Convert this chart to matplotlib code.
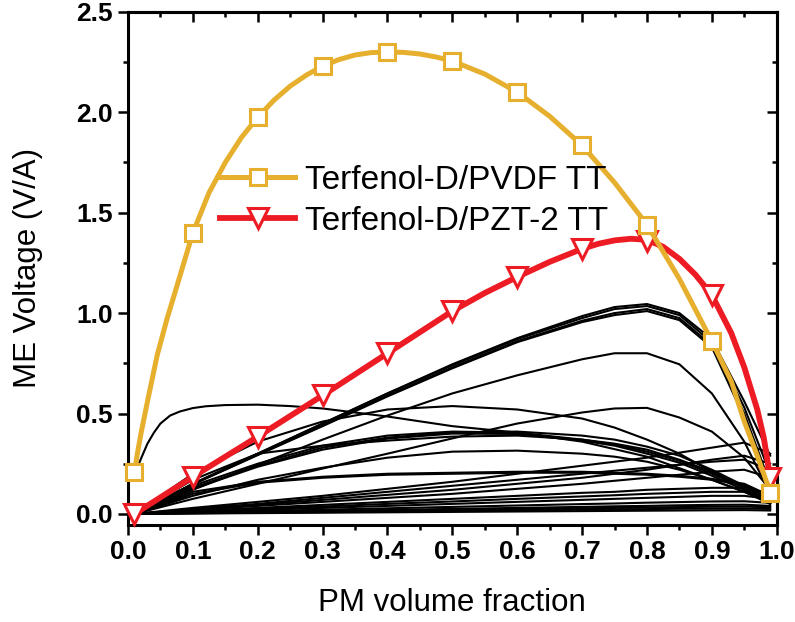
import matplotlib
matplotlib.use('Agg')
import matplotlib.pyplot as plt
from matplotlib.lines import Line2D
from matplotlib.ticker import MultipleLocator

plt.rcParams['font.family'] = ['Liberation Sans', 'DejaVu Sans']

# PM volume fraction where the markers sit
pm_marks = [0.01, 0.1, 0.2, 0.3, 0.4, 0.5, 0.6, 0.7, 0.8, 0.9, 0.99]
pvdf_marks = [0.21, 1.40, 1.975, 2.23, 2.30, 2.255, 2.10, 1.835, 1.44, 0.86, 0.105]
pzt_marks = [0.0, 0.185, 0.385, 0.59, 0.80, 1.01, 1.18, 1.32, 1.36, 1.09, 0.18]

# smooth lines through the markers
pvdf_x = [0.01, 0.015, 0.02, 0.03, 0.045, 0.06, 0.075, 0.1, 0.125, 0.15, 0.175, 0.2, 0.225,
          0.25, 0.275, 0.3, 0.325, 0.35, 0.375, 0.4, 0.425, 0.45, 0.475, 0.5, 0.55, 0.6,
          0.65, 0.7, 0.75, 0.8, 0.85, 0.9, 0.93, 0.95, 0.97, 0.98, 0.99]
pvdf_line = [0.21, 0.31, 0.40, 0.56, 0.79, 0.97, 1.13, 1.40, 1.60, 1.75, 1.875, 1.975, 2.06,
             2.13, 2.185, 2.23, 2.262, 2.285, 2.297, 2.30, 2.298, 2.29, 2.275, 2.255, 2.19, 2.10,
             1.98, 1.835, 1.65, 1.44, 1.17, 0.86, 0.66, 0.46, 0.29, 0.20, 0.105]
pzt_x = [0.01, 0.1, 0.2, 0.3, 0.4, 0.5, 0.55, 0.6, 0.65, 0.7, 0.725, 0.75, 0.775, 0.8, 0.825,
         0.85, 0.875, 0.9, 0.93, 0.95, 0.97, 0.98, 0.99]
pzt_line = [0.0, 0.185, 0.385, 0.59, 0.80, 1.01, 1.10, 1.18, 1.255, 1.32, 1.345, 1.362, 1.37,
            1.365, 1.33, 1.27, 1.19, 1.09, 0.90, 0.73, 0.52, 0.38, 0.18]

# black background curves
grid_x = [0.01, 0.1, 0.2, 0.3, 0.4, 0.5, 0.6, 0.7, 0.75, 0.8, 0.85, 0.9, 0.95, 0.99]
other_curves = [
    [0.0, 0.15, 0.30, 0.45, 0.60, 0.745, 0.875, 0.985, 1.03, 1.045, 1.0, 0.87, 0.56, 0.29],
    [0.0, 0.15, 0.30, 0.45, 0.60, 0.74, 0.87, 0.975, 1.02, 1.035, 0.99, 0.855, 0.53, 0.20],
    [0.0, 0.148, 0.295, 0.44, 0.59, 0.73, 0.86, 0.962, 1.0, 1.02, 0.975, 0.84, 0.50, 0.15],
    [0.0, 0.147, 0.293, 0.437, 0.585, 0.725, 0.855, 0.955, 0.99, 1.01, 0.965, 0.83, 0.48, 0.12],
    [0.0, 0.12, 0.245, 0.37, 0.49, 0.60, 0.69, 0.77, 0.80, 0.80, 0.745, 0.60, 0.36, 0.10],
    [0.0, 0.20, 0.36, 0.46, 0.52, 0.537, 0.52, 0.475, 0.43, 0.37, 0.30, 0.21, 0.13, 0.06],
    [0.0, 0.075, 0.15, 0.226, 0.30, 0.376, 0.45, 0.505, 0.525, 0.528, 0.48, 0.41, 0.28, 0.12],
    [0.0, 0.14, 0.25, 0.34, 0.39, 0.41, 0.405, 0.37, 0.345, 0.31, 0.265, 0.20, 0.13, 0.06],
    [0.0, 0.125, 0.235, 0.32, 0.375, 0.40, 0.398, 0.365, 0.34, 0.30, 0.255, 0.19, 0.12, 0.05],
    [0.0, 0.13, 0.24, 0.33, 0.38, 0.405, 0.41, 0.39, 0.37, 0.335, 0.29, 0.22, 0.14, 0.06],
    [0.0, 0.17, 0.30, 0.34, 0.365, 0.385, 0.39, 0.37, 0.35, 0.32, 0.27, 0.21, 0.14, 0.07],
    [0.0, 0.09, 0.17, 0.23, 0.28, 0.31, 0.315, 0.30, 0.285, 0.26, 0.22, 0.17, 0.11, 0.06],
    [0.0, 0.11, 0.16, 0.185, 0.20, 0.205, 0.21, 0.21, 0.205, 0.20, 0.19, 0.175, 0.15, 0.09],
    [0.0, 0.10, 0.155, 0.18, 0.195, 0.20, 0.205, 0.205, 0.20, 0.195, 0.185, 0.17, 0.145, 0.08],
    [0.0, 0.03, 0.06, 0.09, 0.125, 0.16, 0.20, 0.24, 0.26, 0.28, 0.305, 0.33, 0.355, 0.30],
    [0.0, 0.02, 0.045, 0.07, 0.095, 0.12, 0.15, 0.18, 0.20, 0.22, 0.245, 0.27, 0.29, 0.25],
    [0.0, 0.025, 0.05, 0.08, 0.11, 0.14, 0.17, 0.20, 0.215, 0.23, 0.245, 0.26, 0.27, 0.22],
    [0.0, 0.02, 0.04, 0.06, 0.08, 0.10, 0.125, 0.15, 0.165, 0.18, 0.195, 0.21, 0.22, 0.18],
    [0.0, 0.015, 0.03, 0.045, 0.06, 0.075, 0.09, 0.105, 0.11, 0.12, 0.125, 0.13, 0.13, 0.10],
    [0.0, 0.012, 0.025, 0.037, 0.05, 0.062, 0.075, 0.087, 0.093, 0.10, 0.105, 0.11, 0.11, 0.085],
    [0.0, 0.01, 0.02, 0.03, 0.04, 0.05, 0.06, 0.07, 0.075, 0.08, 0.085, 0.09, 0.09, 0.075],
    [0.0, 0.007, 0.014, 0.021, 0.028, 0.035, 0.042, 0.049, 0.052, 0.056, 0.059, 0.062, 0.063, 0.055],
    [0.0, 0.005, 0.01, 0.015, 0.02, 0.025, 0.03, 0.035, 0.038, 0.04, 0.043, 0.045, 0.046, 0.04],
    [0.0, 0.004, 0.008, 0.012, 0.016, 0.02, 0.024, 0.028, 0.03, 0.032, 0.034, 0.036, 0.037, 0.033],
    [0.0, 0.003, 0.006, 0.009, 0.012, 0.015, 0.018, 0.021, 0.023, 0.024, 0.026, 0.027, 0.028, 0.025],
    [0.0, 0.002, 0.004, 0.006, 0.008, 0.01, 0.012, 0.014, 0.015, 0.016, 0.017, 0.018, 0.019, 0.017],
]
# the one curve that starts high and peaks early
hump_x = [0.01, 0.015, 0.02, 0.03, 0.04, 0.05, 0.065, 0.08, 0.1, 0.12, 0.15, 0.2, 0.25, 0.3,
          0.4, 0.5, 0.6, 0.7, 0.8, 0.9, 0.95, 0.99]
hump_y = [0.185, 0.235, 0.275, 0.35, 0.405, 0.45, 0.49, 0.51, 0.527, 0.536, 0.542, 0.544, 0.537,
          0.525, 0.485, 0.437, 0.405, 0.36, 0.285, 0.17, 0.11, 0.05]

labels = ['Terfenol-D/PVDF TT', 'Terfenol-D/PZT-2 TT']
YELLOW = '#E6AF2D'
RED = '#ED1C24'

fig = plt.figure(figsize=(7.95, 6.22), dpi=100)
ax = fig.add_axes([0.161, 0.156, 0.816, 0.825])

for yv in other_curves:
    ax.plot(grid_x, yv, color='black', lw=1.5, zorder=2)
ax.plot(hump_x, hump_y, color='black', lw=1.5, zorder=2)

ax.plot(pzt_x, pzt_line, color=RED, lw=4.2, zorder=3, solid_capstyle='butt')
ax.plot(pm_marks, pzt_marks, 'v', ms=14, mfc='white', mec=RED, mew=2.2, zorder=3, clip_on=False)
ax.plot(pvdf_x, pvdf_line, color=YELLOW, lw=3.6, zorder=4, solid_capstyle='butt')
ax.plot(pm_marks, pvdf_marks, 's', ms=11, mfc='white', mec=YELLOW, mew=2.2, zorder=4, clip_on=False)

ax.set_xlim(0, 1.0)
ax.set_ylim(-0.055, 2.5)
ax.xaxis.set_major_locator(MultipleLocator(0.1))
ax.xaxis.set_minor_locator(MultipleLocator(0.05))
ax.yaxis.set_major_locator(MultipleLocator(0.5))
ax.yaxis.set_minor_locator(MultipleLocator(0.25))
ax.xaxis.set_major_formatter(plt.FormatStrFormatter('%.1f'))
ax.yaxis.set_major_formatter(plt.FormatStrFormatter('%.1f'))
ax.tick_params(which='major', direction='out', length=7, width=1.8, labelsize=19, pad=4)
ax.tick_params(which='minor', direction='out', length=3.6, width=1.8)
for lab in ax.get_xticklabels() + ax.get_yticklabels():
    lab.set_fontweight('bold')
for sp in ax.spines.values():
    sp.set_linewidth(2.2)

# top / right ticks point inwards
top = ax.secondary_xaxis('top')
right = ax.secondary_yaxis('right')
top.xaxis.set_major_locator(MultipleLocator(0.1))
top.xaxis.set_minor_locator(MultipleLocator(0.05))
right.yaxis.set_major_locator(MultipleLocator(0.5))
right.yaxis.set_minor_locator(MultipleLocator(0.25))
for sec in (top, right):
    sec.tick_params(which='major', direction='in', length=7, width=1.8,
                    labeltop=False, labelright=False)
    sec.tick_params(which='minor', direction='in', length=3.6, width=1.8)
    for sp in sec.spines.values():
        sp.set_linewidth(2.2)

ax.set_xlabel('PM volume fraction', fontsize=22.5, labelpad=17)
ax.set_ylabel('ME Voltage (V/A)', fontsize=22.5, labelpad=24)

handles = [
    Line2D([], [], color=YELLOW, lw=3.6, marker='s', ms=11, mfc='white', mec=YELLOW, mew=2.2),
    Line2D([], [], color=RED, lw=4.2, marker='v', ms=14, mfc='white', mec=RED, mew=2.2),
]
ax.legend(handles, labels, loc='center left', bbox_to_anchor=(0.142, 0.632),
          frameon=False, fontsize=24, handlelength=2.25, handletextpad=0.3,
          labelspacing=0.3, borderpad=0, borderaxespad=0)

fig.savefig('out.png', dpi=100)
